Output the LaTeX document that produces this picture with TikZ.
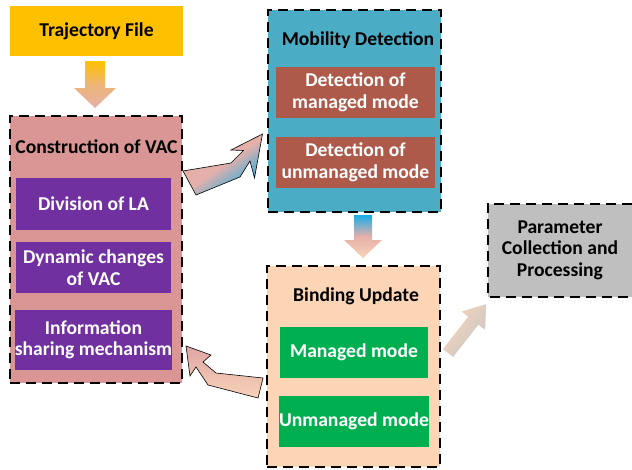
\documentclass[tikz,border=0pt]{standalone}
\usepackage{fontspec}
\setmainfont{Carlito}
\definecolor{trajc}{HTML}{FFC000}
\definecolor{vacc}{HTML}{D99694}
\definecolor{purplec}{HTML}{7030A0}
\definecolor{mobc}{HTML}{4BACC6}
\definecolor{detc}{HTML}{AE5A4A}
\definecolor{bindc}{HTML}{FBD5B5}
\definecolor{greenc}{HTML}{00B050}
\definecolor{grayc}{HTML}{BFBFBF}
\definecolor{arrpink}{HTML}{E6B0AA}
\definecolor{arrblue}{HTML}{1AAEE6}
\definecolor{arrpeach}{HTML}{F8D3B8}
\definecolor{arrgray}{HTML}{C8C8C8}
\begin{document}
\begin{tikzpicture}[x=1pt,y=-1pt,
  txt/.style={font=\bfseries\fontsize{19.6}{21.5}\selectfont, align=center},
  group/.style={draw=black, line width=1.8pt, dash pattern=on 10pt off 6pt, inner sep=0pt},
  sub/.style={txt, text=white, inner sep=0pt},
  ttl/.style={txt, text=black, inner sep=0pt},
  bentarrow/.style={draw=black, line width=0.6pt, line join=miter}]
\useasboundingbox (0,0) rectangle (632,469);

% Trajectory file
\node[ttl, fill=trajc, minimum width=173pt, minimum height=50pt] (traj) at (96.5,31) {Trajectory File};

% Construction of VAC
\node[group, fill=vacc, minimum width=172pt, minimum height=267pt] (vac) at (96,249.5) {};
\node[ttl] (vact) at (96.5,147) {Construction of VAC};
\node[sub, fill=purplec, minimum width=155pt, minimum height=52pt] (div) at (93.5,204) {Division of LA};
\node[sub, fill=purplec, minimum width=155pt, minimum height=51pt] (dyn) at (93.5,267.5) {Dynamic changes\\of VAC};
\node[sub, fill=purplec, minimum width=155pt, minimum height=60pt] (info) at (93.5,340) {Information\\sharing mechanism};

% Mobility detection
\node[group, fill=mobc, minimum width=173pt, minimum height=202pt] (mob) at (354.5,111) {};
\node[ttl] (mobt) at (358,40) {Mobility Detection};
\node[sub, fill=detc, minimum width=159pt, minimum height=51pt] (dman) at (355.5,92.5) {Detection of\\managed mode};
\node[sub, fill=detc, minimum width=159pt, minimum height=51pt] (dunm) at (355.5,162.5) {Detection of\\unmanaged mode};

% Binding update
\node[group, fill=bindc, minimum width=173pt, minimum height=201pt] (bind) at (353.5,366.5) {};
\node[ttl] (bindt) at (356,296) {Binding Update};
\node[sub, fill=greenc, minimum width=148pt, minimum height=51pt] (man) at (354,352.5) {Managed mode};
\node[sub, fill=greenc, minimum width=148pt, minimum height=51pt] (unm) at (354,421.5) {Unmanaged mode};

% Parameter collection
\node[ttl, fill=grayc, minimum width=144pt, minimum height=93pt] (param) at (560,250.5) {};
\node[ttl] (paramt) at (560,250) {Parameter\\Collection and\\Processing};
\draw[line width=1.8pt, dash pattern=on 10pt off 6pt] (param.north east) -- (param.north west) -- (param.south west) -- (param.south east);

% Down arrow: trajectory -> VAC
\shade[top color=trajc, bottom color=arrpink, middle color=arrpink!70!trajc]
  (85,61) -- (105,61) -- (105,88) -- (116,88) -- (95,108) -- (74,88) -- (85,88) -- cycle;

% Down arrow: mobility -> binding
\shade[top color=arrblue, bottom color=arrpeach, middle color=arrpink]
  (354,215) -- (372,215) -- (372,240) -- (382,240) -- (363,258) -- (344,240) -- (354,240) -- cycle;

% Bent arrow: VAC -> mobility
\shade[bentarrow, left color=arrpink, right color=arrblue, middle color=arrpink, shading angle=35]
  (183,171) -- (231,163) -- (243.5,150.5) -- (231,150) -- (262.5,134) -- (254.5,178) -- (250,161) -- (240,177) -- (196,195) -- cycle;

% Bent arrow: binding -> VAC
\shade[bentarrow, left color=vacc!85!white, right color=arrpeach, shading angle=0]
  (186,346) -- (211,355) -- (203,362) -- (216,373) -- (263,378) -- (258,398) -- (208,385) -- (196,367) -- (190,376) -- cycle;

% Diagonal arrow: binding -> parameter
\shade[left color=arrpeach, right color=arrgray, shading angle=52]
  (442.9,349) -- (468.2,316.7) -- (461.5,311.5) -- (486.2,304.1) -- (485.1,329.9) -- (478.4,324.7) -- (453.1,357) -- cycle;
\end{tikzpicture}
\end{document}
